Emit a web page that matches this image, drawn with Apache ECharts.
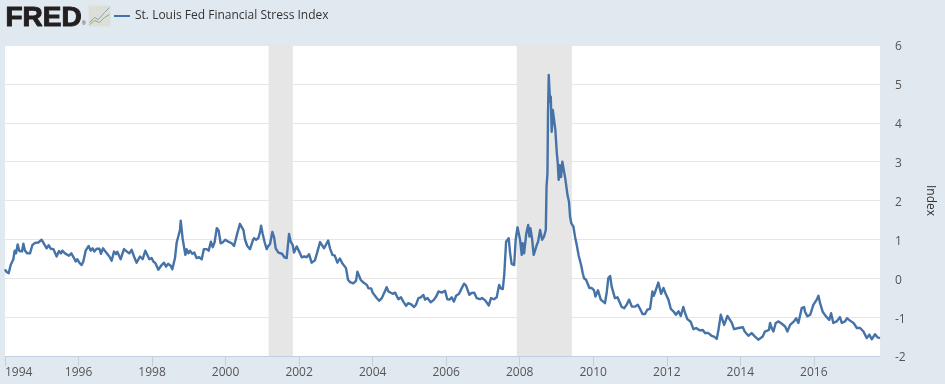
<!DOCTYPE html>
<html>
<head>
<meta charset="utf-8">
<title>St. Louis Fed Financial Stress Index</title>
<script src="https://cdn.jsdelivr.net/npm/echarts@6/dist/echarts.min.js"></script>
<style>
  html, body { margin: 0; padding: 0; background: #e1e9f0; }
  #main { width: 945px; height: 384px; }
</style>
</head>
<body>
<div id="main"></div>
<script>
const seriesName = 'St. Louis Fed Financial Stress Index';

// decimal years
const years = [
  1994.00,1994.045,1994.10,1994.154,1994.227,1994.263,1994.30,1994.345,1994.39,1994.426,1994.462,1994.50,1994.544,1994.607,1994.68,1994.743,1994.816,1994.907,1994.997,
  1995.07,1995.133,1995.188,1995.242,1995.315,1995.405,1995.469,1995.523,1995.56,1995.632,1995.686,1995.741,1995.804,1995.877,1995.922,1995.967,
  1996.02,1996.085,1996.13,1996.194,1996.239,1996.276,1996.33,1996.384,1996.43,1996.493,1996.566,1996.611,1996.665,1996.72,1996.765,1996.838,1996.901,1996.965,
  1997.02,1997.055,1997.146,1997.237,1997.31,1997.382,1997.445,1997.509,1997.58,1997.67,1997.745,1997.817,1997.87,1997.926,1997.989,
  1998.035,1998.09,1998.17,1998.216,1998.26,1998.325,1998.38,1998.44,1998.506,1998.55,1998.624,1998.67,1998.72,1998.76,1998.78,1998.805,1998.83,1998.87,1998.905,1998.94,1998.987,
  1999.03,1999.095,1999.15,1999.21,1999.28,1999.35,1999.41,1999.485,1999.54,1999.60,1999.65,1999.70,1999.76,1999.81,1999.865,1999.92,1999.99,
  2000.075,2000.165,2000.23,2000.32,2000.39,2000.44,2000.485,2000.53,2000.59,2000.665,2000.74,2000.77,2000.83,2000.89,2000.94,2000.965,
  2001.01,2001.064,2001.118,2001.155,2001.209,2001.272,2001.318,2001.363,2001.436,2001.481,2001.535,2001.599,2001.662,2001.699,2001.726,2001.771,2001.825,2001.862,2001.934,2001.98,
  2002.025,2002.07,2002.14,2002.205,2002.27,2002.34,2002.43,2002.50,2002.57,2002.62,2002.68,2002.79,2002.84,2002.905,2002.97,
  2003.04,2003.11,2003.17,2003.22,2003.275,2003.33,2003.385,2003.475,2003.55,2003.585,2003.62,2003.675,2003.75,2003.84,2003.885,2003.96,
  2004.00,2004.05,2004.11,2004.175,2004.25,2004.34,2004.38,2004.43,2004.475,2004.545,2004.61,2004.70,2004.77,2004.835,2004.91,2004.97,
  2005.02,2005.06,2005.125,2005.18,2005.245,2005.31,2005.38,2005.425,2005.49,2005.58,2005.67,2005.74,2005.79,2005.88,2005.97,
  2006.03,2006.09,2006.15,2006.21,2006.27,2006.35,2006.41,2006.485,2006.54,2006.63,2006.69,2006.76,2006.83,2006.92,2006.975,
  2007.06,2007.16,2007.22,2007.30,2007.375,2007.44,2007.485,2007.54,2007.58,2007.63,2007.66,2007.70,2007.74,2007.78,2007.85,2007.89,2007.94,2007.97,
  2008.01,2008.055,2008.08,2008.12,2008.145,2008.18,2008.23,2008.265,2008.29,2008.335,2008.38,2008.42,2008.465,2008.50,2008.555,2008.61,2008.66,2008.71,2008.73,2008.755,2008.77,2008.79,2008.81,2008.825,2008.845,2008.87,2008.90,2008.945,2008.97,
  2009.01,2009.035,2009.06,2009.09,2009.125,2009.16,2009.20,2009.245,2009.30,2009.34,2009.37,2009.405,2009.46,2009.505,2009.55,2009.605,2009.67,2009.715,2009.75,2009.805,2009.85,2009.895,2009.96,
  2010.02,2010.06,2010.13,2010.205,2010.25,2010.32,2010.37,2010.41,2010.46,2010.50,2010.59,2010.66,2010.70,2010.775,2010.84,2010.91,2010.975,
  2011.05,2011.14,2011.21,2011.275,2011.34,2011.41,2011.47,2011.545,2011.58,2011.61,2011.645,2011.69,2011.77,2011.80,2011.845,2011.91,2011.97,
  2012.045,2012.11,2012.18,2012.25,2012.32,2012.38,2012.45,2012.50,2012.56,2012.65,2012.725,2012.80,2012.89,2012.98,
  2013.04,2013.13,2013.22,2013.285,2013.36,2013.405,2013.47,2013.505,2013.56,2013.605,2013.65,2013.695,2013.77,2013.83,2013.95,
  2014.00,2014.07,2014.12,2014.22,2014.31,2014.40,2014.49,2014.61,2014.67,2014.72,2014.78,2014.81,2014.855,2014.90,2014.965,
  2015.04,2015.13,2015.22,2015.28,2015.355,2015.46,2015.52,2015.58,2015.67,2015.735,2015.76,2015.825,2015.90,2015.99,
  2016.08,2016.125,2016.17,2016.24,2016.33,2016.42,2016.47,2016.53,2016.62,2016.71,2016.76,2016.85,2016.90,2016.985,
  2017.08,2017.17,2017.26,2017.35,2017.44,2017.51,2017.575,2017.665,2017.73,2017.80
];

const stressIndex = [
  0.23,0.16,0.13,0.34,0.49,0.71,0.64,0.87,0.70,0.75,0.69,0.89,0.71,0.64,0.64,0.85,0.91,0.92,0.99,
  0.87,0.77,0.85,0.76,0.75,0.56,0.70,0.64,0.71,0.64,0.67,0.58,0.64,0.52,0.43,0.49,
  0.40,0.34,0.43,0.71,0.66,0.83,0.71,0.77,0.69,0.76,0.76,0.63,0.77,0.70,0.75,0.56,0.45,0.69,
  0.62,0.68,0.49,0.75,0.69,0.64,0.73,0.56,0.40,0.56,0.49,0.71,0.69,0.49,0.52,
  0.43,0.39,0.22,0.26,0.34,0.40,0.30,0.37,0.32,0.23,0.52,0.92,0.97,1.24,1.48,1.48,1.03,0.99,0.60,0.75,0.64,
  0.71,0.63,0.66,0.52,0.54,0.49,0.75,0.75,0.71,0.94,0.80,0.92,1.29,1.23,0.90,0.92,0.99,
  0.94,0.90,0.83,1.16,1.40,1.40,1.24,0.99,0.83,0.75,0.97,1.03,0.99,1.03,1.20,1.35,
  1.14,0.92,0.75,0.82,0.88,1.19,1.06,0.77,0.66,0.68,0.63,0.54,0.52,0.56,1.14,0.94,0.86,0.66,0.82,0.86,
  0.64,0.54,0.56,0.54,0.62,0.40,0.46,0.69,0.93,0.92,0.77,0.97,0.77,0.60,0.58,
  0.40,0.51,0.39,0.40,0.26,-0.04,-0.10,-0.13,-0.06,0.17,0.19,-0.04,-0.11,-0.17,-0.26,-0.26,
  -0.37,-0.34,-0.51,-0.58,-0.51,-0.32,-0.23,-0.34,-0.32,-0.40,-0.37,-0.54,-0.49,-0.60,-0.71,-0.64,
  -0.61,-0.68,-0.74,-0.68,-0.51,-0.49,-0.43,-0.55,-0.51,-0.62,-0.55,-0.45,-0.34,-0.37,-0.32,
  -0.54,-0.55,-0.49,-0.60,-0.45,-0.40,-0.28,-0.14,-0.19,-0.43,-0.38,-0.37,-0.51,-0.54,-0.51,
  -0.57,-0.70,-0.51,-0.54,-0.49,-0.17,-0.26,-0.28,0.10,0.94,0.97,1.03,0.64,0.37,0.34,0.99,1.31,1.33,
  0.99,0.60,0.90,0.64,0.69,1.16,1.37,1.07,1.29,1.03,0.60,0.60,0.86,0.94,1.24,0.99,1.07,1.24,2.36,2.70,4.24,5.23,5.25,4.54,4.67,3.77,4.33,4.35,3.81,
  3.21,2.96,2.53,2.91,2.60,3.00,3.04,2.53,2.14,1.97,1.59,1.41,1.33,1.07,0.86,0.58,0.34,0.13,0.0,-0.04,-0.02,-0.25,-0.25,
  -0.31,-0.47,-0.31,-0.55,-0.54,-0.64,-0.34,0.0,0.06,-0.21,-0.51,-0.49,-0.51,-0.74,-0.77,-0.68,-0.55,
  -0.73,-0.73,-0.68,-0.79,-0.92,-0.92,-0.81,-0.79,-0.77,-0.34,-0.45,-0.34,-0.11,-0.13,-0.40,-0.25,-0.40,
  -0.55,-0.79,-0.85,-0.94,-0.85,-0.97,-0.74,-0.90,-1.05,-1.12,-1.31,-1.28,-1.34,-1.33,
  -1.41,-1.41,-1.48,-1.50,-1.56,-1.33,-0.94,-0.90,-1.20,-1.17,-0.97,-0.92,-1.15,-1.31,-1.28,
  -1.33,-1.26,-1.37,-1.48,-1.41,-1.50,-1.58,-1.50,-1.37,-1.40,-1.33,-1.15,-1.28,-1.37,-1.15,
  -1.11,-1.17,-1.24,-1.37,-1.20,-1.11,-1.03,-1.15,-0.77,-0.74,-0.86,-0.98,-0.94,-0.68,
  -0.55,-0.45,-0.64,-0.86,-0.98,-1.07,-0.90,-1.15,-1.11,-1.00,-1.15,-1.11,-1.03,-1.09,
  -1.15,-1.28,-1.28,-1.37,-1.54,-1.45,-1.57,-1.44,-1.52,-1.54
];

// NBER recessions
const recessions = [[2001.17, 2001.83], [2007.92, 2009.42]];

const yearMin = 1994;
const yearMax = 2017.8;
const yMin = -2;
const yMax = 6;

const chart = echarts.init(document.getElementById('main'));
const font = '"Open Sans", "Noto Sans", sans-serif';

const option = {
  animation: false,
  backgroundColor: '#e1e9f0',
  textStyle: { fontFamily: font },
  grid: {
    show: true,
    left: 5,
    right: 65,
    top: 45,
    bottom: 28,
    outerBoundsMode: 'none',
    backgroundColor: '#fff',
    borderWidth: 0
  },
  legend: {
    left: 114,
    top: 10,
    padding: 0,
    itemWidth: 16,
    itemHeight: 2,
    data: [{ name: seriesName, icon: 'rect' }],
    textStyle: { color: '#333', fontSize: 12, fontFamily: font }
  },
  xAxis: {
    type: 'value',
    min: yearMin,
    max: yearMax,
    interval: 2,
    splitLine: { show: false },
    axisLine: { onZero: false, lineStyle: { color: '#c0d0e0', width: 1 } },
    axisTick: { show: true, length: 10, lineStyle: { color: '#c0d0e0' } },
    axisLabel: {
      color: '#555',
      fontSize: 12,
      margin: 11,
      showMaxLabel: false,
      alignMinLabel: 'left',
      formatter: function (v) { return String(v); }
    }
  },
  yAxis: {
    type: 'value',
    position: 'right',
    min: yMin,
    max: yMax,
    interval: 1,
    name: 'Index',
    nameLocation: 'middle',
    nameRotate: -90,
    nameGap: 44,
    nameTextStyle: { color: '#333', fontSize: 12 },
    axisLine: { show: false },
    axisTick: { show: false },
    // labels sit a little below their gridlines
    axisLabel: { color: '#555', fontSize: 12, margin: 15, verticalAlign: 'top', lineHeight: 4 },
    splitLine: { lineStyle: { color: '#e6e6e6', width: 1 } }
  },
  series: [{
    name: seriesName,
    type: 'line',
    showSymbol: false,
    symbol: 'none',
    z: 5,
    data: years.map(function (y, i) { return [y, stressIndex[i]]; }),
    lineStyle: { color: '#4572a7', width: 2.4, join: 'round' },
    itemStyle: { color: '#4572a7' },
    markArea: {
      silent: true,
      itemStyle: { color: '#e6e6e6' },
      data: recessions.map(function (r) { return [{ xAxis: r[0] }, { xAxis: r[1] }]; })
    }
  }],
  graphic: [
    {
      type: 'text',
      left: 5,
      top: 4,
      style: { text: 'FRED', fill: '#231f20', stroke: '#231f20', lineWidth: 1, font: 'bold 28px "Liberation Sans", sans-serif' }
    },
    {
      type: 'text',
      left: 82,
      top: 21,
      style: { text: '®', fill: '#231f20', font: '5px "Liberation Sans", sans-serif' }
    },
    {
      type: 'group',
      left: 87,
      top: 5,
      children: [
        { type: 'rect', shape: { x: 0, y: 0, width: 22, height: 21 }, style: { fill: '#dcdfd8' } },
        { type: 'polyline', shape: { points: [[1, 17], [6, 12], [10, 14], [16, 7], [21, 2]] }, style: { stroke: '#8aa3bd', fill: 'none', lineWidth: 1 } },
        { type: 'polyline', shape: { points: [[1, 19], [6, 15], [11, 17], [16, 12], [21, 9]] }, style: { stroke: '#8fb070', fill: 'none', lineWidth: 1 } }
      ]
    }
  ]
};

chart.setOption(option);
</script>
</body>
</html>
